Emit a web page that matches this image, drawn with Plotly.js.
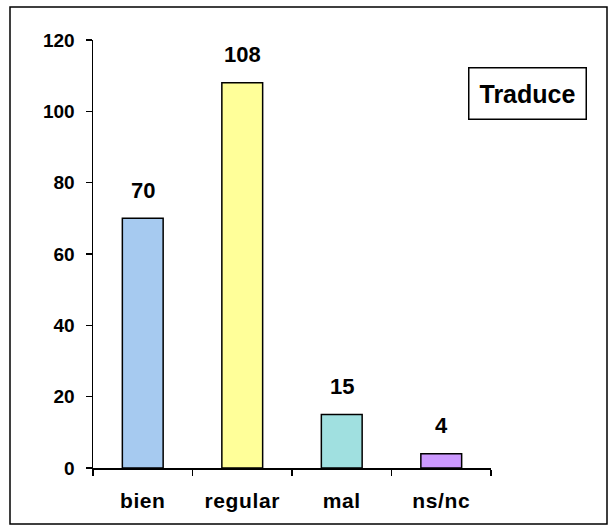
<!DOCTYPE html>
<html>
<head>
<meta charset="utf-8">
<script src="https://cdn.plot.ly/plotly-3.0.1.min.js"></script>
<style>html,body{margin:0;padding:0;background:#fff;}#chart{width:614px;height:531px;}
.xtick text{letter-spacing:0.6px;}</style>
</head>
<body>
<div id="chart"></div>
<script>
const categories = ["bien", "regular", "mal", "ns/nc"];
const values = [70, 108, 15, 4];
const barColors = ["#A6CAF0", "#FFFF99", "#A0E0E0", "#CC99FF"];
const seriesName = "Traduce";
const yTicks = [0, 20, 40, 60, 80, 100, 120];

const font = "Arial, 'Liberation Sans', sans-serif";

const trace = {
  type: "bar",
  x: categories,
  y: values,
  name: seriesName,
  width: 0.41,
  marker: { color: barColors, line: { color: "#000", width: 1.5 } },
  hoverinfo: "none"
};

const labelAnnotations = categories.map((c, i) => ({
  x: c, y: values[i], xref: "x", yref: "y",
  text: "<b>" + values[i] + "</b>",
  showarrow: false, yanchor: "middle", yshift: 28,
  font: { family: font, size: 22, color: "#000" }
}));

const layout = {
  width: 614, height: 531,
  margin: { l: 93, r: 123, t: 40, b: 63 },
  paper_bgcolor: "#fff", plot_bgcolor: "#fff",
  showlegend: false,
  bargap: 0.59,
  font: { family: font, size: 18, color: "#000" },
  xaxis: {
    type: "category",
    showline: true, linecolor: "#000", linewidth: 1.5,
    ticks: "outside", ticklen: 6, tickwidth: 1.5, tickcolor: "#000",
    tickson: "boundaries",
    ticklabelstandoff: 13,
    tickfont: { family: font, size: 21, weight: "bold" },
    showgrid: false, zeroline: false, fixedrange: true
  },
  yaxis: {
    range: [0, 120],
    tickvals: yTicks,
    ticktext: yTicks.map(String),
    showline: true, linecolor: "#000", linewidth: 1.5,
    ticks: "outside", ticklen: 6, tickwidth: 1.5, tickcolor: "#000",
    ticklabelstandoff: 7,
    tickfont: { family: font, size: 19, weight: "bold" },
    showgrid: false, zeroline: false, fixedrange: true
  },
  shapes: [{
    type: "rect", xref: "paper", yref: "paper",
    x0: (10 - 93) / 398, x1: (607 - 93) / 398,
    y0: (468 - 524) / 428, y1: (468 - 7) / 428,
    line: { color: "#000", width: 1.5 }, fillcolor: "rgba(0,0,0,0)", layer: "below"
  }],
  annotations: labelAnnotations.concat([{
    xref: "paper", yref: "paper",
    x: (527.5 - 93) / 398, y: (468 - 94) / 428,
    xanchor: "center", yanchor: "middle",
    text: "<b>" + seriesName + "</b>",
    showarrow: false,
    width: 114, height: 48,
    bordercolor: "#000", borderwidth: 1.5, bgcolor: "#fff",
    font: { family: font, size: 25, color: "#000" }
  }])
};

Plotly.newPlot("chart", [trace], layout, { displayModeBar: false, staticPlot: true });
</script>
</body>
</html>
